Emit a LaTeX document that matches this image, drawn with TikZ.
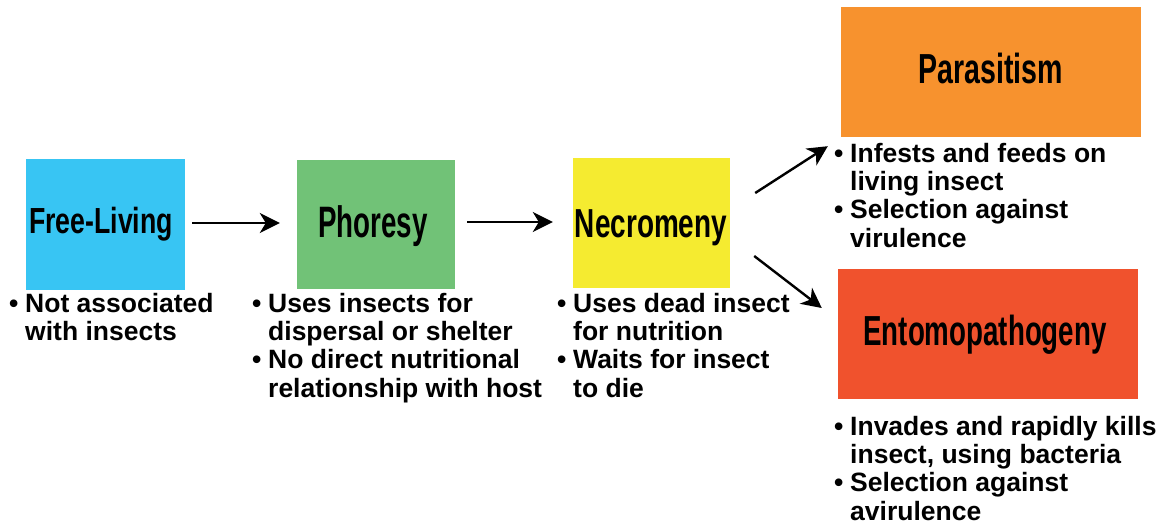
\documentclass[tikz,border=0pt]{standalone}
\usepackage{fontspec}
\setmainfont{Liberation Sans}
\newfontfamily\ttlfont{Liberation Sans Bold}
\usetikzlibrary{arrows.meta}
\definecolor{cFree}{HTML}{38C5F3}
\definecolor{cPho}{HTML}{71C277}
\definecolor{cNec}{HTML}{F5EB30}
\definecolor{cPar}{HTML}{F7922E}
\definecolor{cEnt}{HTML}{F0522D}
\newcommand\bul{\makebox[16pt][l]{\textbullet}}
\newcommand\ttltext[3]{\fontsize{#1}{#1}\selectfont\scalebox{#2}[1]{#3}}
\begin{document}
\begin{tikzpicture}[x=1pt,y=-1pt,
  box/.style={draw=none, inner sep=0pt, minimum height=130pt},
  ttl/.style={anchor=base, inner sep=0pt, font=\ttlfont},
  blist/.style={anchor=base west, inner sep=0pt, font=\bfseries\fontsize{26.5}{28.4}\selectfont},
  arr/.style={line width=2.4pt, -{Stealth[length=20pt,width=20pt,inset=6pt]}}]
\useasboundingbox (0,0) rectangle (1166,525);
\fill[white] (0,0) rectangle (1166,525);
% boxes
\node[box, fill=cFree, minimum width=159pt, minimum height=131pt] (fl) at (105.5,224.5) {};
\node[box, fill=cPho, minimum width=158pt, minimum height=129pt] (ph) at (376,224.5) {};
\node[box, fill=cNec, minimum width=157pt] (ne) at (651.5,223) {};
\node[box, fill=cPar, minimum width=300pt] (pa) at (991,72) {};
\node[box, fill=cEnt, minimum width=300pt] (en) at (988,334) {};
% titles
\node[ttl] (flt) at (101,233) {\ttltext{36.3}{0.735}{Free-Living}};
\node[ttl] (pht) at (373,237) {\ttltext{44}{0.63}{Phoresy}};
\node[ttl] (net) at (651,237) {\ttltext{40.5}{0.69}{Necromeny}};
\node[ttl] (pat) at (990.5,83) {\ttltext{42}{0.68}{Parasitism}};
\node[ttl] (ent) at (985,345) {\ttltext{42}{0.66}{Entomopathogeny}};
% bullet lists
\node[blist] (fll) at (9,312) {\begin{tabular}[t]{@{}l@{}l@{}}\bul & Not associated\\ & with insects\end{tabular}};
\node[blist] (phl) at (252,312) {\begin{tabular}[t]{@{}l@{}l@{}}\bul & Uses insects for\\ & dispersal or shelter\\ \bul & No direct nutritional\\ & relationship with host\end{tabular}};
\node[blist] (nel) at (557,312) {\begin{tabular}[t]{@{}l@{}l@{}}\bul & Uses dead insect\\ & for nutrition\\ \bul & Waits for insect\\ & to die\end{tabular}};
\node[blist] (pal) at (834,162) {\begin{tabular}[t]{@{}l@{}l@{}}\bul & Infests and feeds on\\ & living insect\\ \bul & Selection against\\ & virulence\end{tabular}};
\node[blist] (enl) at (834,435) {\begin{tabular}[t]{@{}l@{}l@{}}\bul & Invades and rapidly kills\\ & insect, using bacteria\\ \bul & Selection against\\ & avirulence\end{tabular}};
% arrows
\draw[arr] ([shift={(7pt,1.5pt)}]fl.east) -- ([shift={(-17pt,1.5pt)}]ph.west);
\draw[arr] ([shift={(12pt,2.5pt)}]ph.east) -- ([shift={(-20pt,1pt)}]ne.west);
\draw[arr] ([shift={(25pt,30pt)}]ne.east) -- ([shift={(-13pt,-9pt)}]pa.south west);
\draw[arr] ([shift={(24pt,-33pt)}]ne.east) -- ([shift={(-16pt,26pt)}]en.west);
\end{tikzpicture}
\end{document}
